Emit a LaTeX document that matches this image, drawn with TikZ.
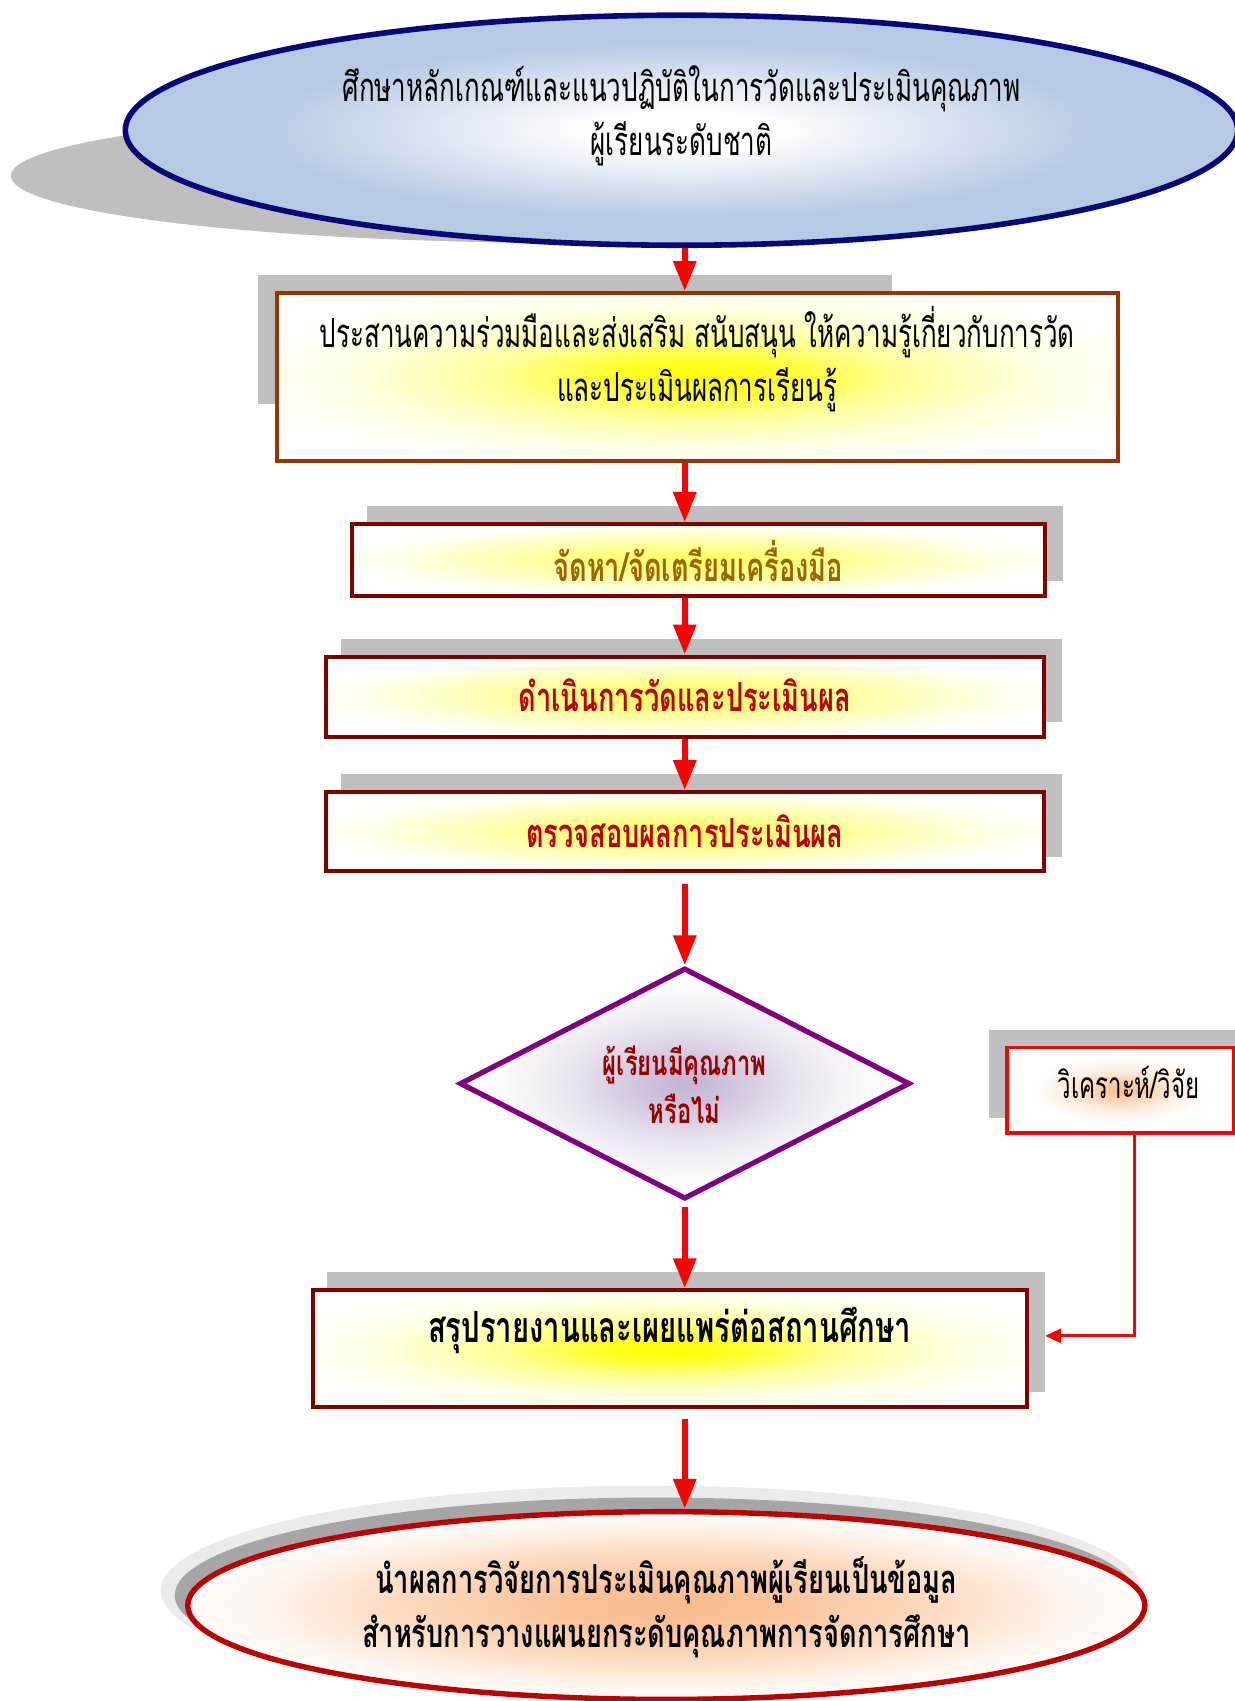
\documentclass[tikz,border=0pt]{standalone}
\usepackage{fontspec}
\newfontfamily\thai[Script=Thai,FakeStretch=0.65]{Loma}
\newfontfamily\thaib[Script=Thai,FakeStretch=0.68]{Loma}
\usetikzlibrary{shapes.geometric,arrows.meta,calc}
\newcommand\dpx{0.5426pt}
\definecolor{navy}{RGB}{8,8,120}
\definecolor{lblue}{RGB}{182,202,228}
\definecolor{sgray}{RGB}{191,191,191}
\definecolor{brownb}{RGB}{153,51,0}
\definecolor{maroonb}{RGB}{128,0,0}
\definecolor{olivet}{RGB}{156,101,0}
\definecolor{redt}{RGB}{192,0,0}
\definecolor{dredt}{RGB}{150,0,0}
\definecolor{purp}{RGB}{128,0,128}
\definecolor{pglowc}{RGB}{196,180,212}
\definecolor{oglowc}{RGB}{249,188,140}
\definecolor{ered}{RGB}{192,0,0}
\pgfdeclareradialshading{blueglow}{\pgfpoint{0bp}{0bp}}{color(0bp)=(white); color(4bp)=(white); color(19bp)=(lblue); color(50bp)=(lblue)}
\pgfdeclareradialshading{yglow}{\pgfpoint{0bp}{0bp}}{color(0bp)=(yellow); color(5bp)=(yellow!85!white); color(12bp)=(yellow!40!white); color(20bp)=(yellow!12!white); color(26bp)=(yellow!3!white); color(30bp)=(white); color(50bp)=(white)}
\pgfdeclareradialshading{ypale}{\pgfpoint{0bp}{0bp}}{color(0bp)=(yellow!65!white); color(9bp)=(yellow!45!white); color(17bp)=(yellow!22!white); color(23bp)=(yellow!6!white); color(27bp)=(white); color(50bp)=(white)}
\pgfdeclareradialshading{pglow}{\pgfpoint{0bp}{0bp}}{color(0bp)=(pglowc); color(5bp)=(pglowc!80!white); color(12bp)=(pglowc!40!white); color(20bp)=(white!92!pglowc); color(28bp)=(white!97!pglowc); color(50bp)=(white!97!pglowc)}
\pgfdeclareradialshading{oglow}{\pgfpoint{0bp}{0bp}}{color(0bp)=(oglowc); color(5bp)=(oglowc!92!white); color(14bp)=(oglowc!55!white); color(22bp)=(oglowc!12!white); color(28bp)=(white); color(50bp)=(white)}
\pgfdeclareradialshading{osmall}{\pgfpoint{0bp}{0bp}}{color(0bp)=(oglowc); color(5bp)=(oglowc!70!white); color(12bp)=(oglowc!25!white); color(18bp)=(oglowc!5!white); color(21bp)=(white); color(50bp)=(white)}
\tikzset{
  shadowfill/.style={fill=sgray},
  txtreg/.style={font=\thai\fontsize{20}{27}\selectfont, align=center, text=black},
  txtbold/.style={font=\thaib\bfseries\fontsize{20}{27}\selectfont, align=center},
  flowbox/.style={rectangle, draw=maroonb, line width=2pt, shading=ypale, inner sep=0pt},
  arr/.style={draw=red, line width=3pt, -{Triangle[length=15pt,width=11pt]}},
  thinarr/.style={draw=red, line width=1.5pt, -{Triangle[length=8pt,width=7pt]}},
}
\begin{document}
\begin{tikzpicture}[x=0.5426pt,y=-0.5426pt]
\useasboundingbox (0,0) rectangle (1138,1567.5);
% ---- top ellipse
\fill[shadowfill] (535,162) ellipse [x radius=525*\dpx, y radius=62*\dpx];
\node[ellipse, draw=navy, line width=2.8pt, shading=blueglow, inner sep=0pt,
      minimum width=1025*\dpx, minimum height=212*\dpx] (T) at (628,120) {};
\node[txtreg] (Tt) at (628,107) {ศึกษาหลักเกณฑ์และแนวปฏิบัติในการวัดและประเมินคุณภาพ\\ผู้เรียนระดับชาติ};
% ---- box 2
\fill[shadowfill] (238,253) rectangle (822,372);
\node[flowbox, draw=brownb, line width=1.9pt, shading=yglow, minimum width=775*\dpx, minimum height=155*\dpx] (B2) at (642.5,347.5) {};
\node[txtreg] (B2t) at (642.5,331) {ประสานความร่วมมือและส่งเสริม สนับสนุน ให้ความรู้เกี่ยวกับการวัด\\และประเมินผลการเรียนรู้};
% ---- box 3
\fill[shadowfill] (338,466) rectangle (980,535);
\node[flowbox, minimum width=639*\dpx, minimum height=66*\dpx] (B3) at (643.5,516) {};
\node[txtbold, text=olivet] (B3t) at (643.5,517) {จัดหา/จัดเตรียมเครื่องมือ};
% ---- box 4
\fill[shadowfill] (314,589) rectangle (979,665);
\node[flowbox, minimum width=662*\dpx, minimum height=74*\dpx] (B4) at (631,642) {};
\node[txtbold, text=redt] (B4t) at (631,641) {ดำเนินการวัดและประเมินผล};
% ---- box 5
\fill[shadowfill] (314,713) rectangle (979,790);
\node[flowbox, minimum width=662*\dpx, minimum height=73*\dpx] (B5) at (631,766.5) {};
\node[txtbold, text=redt] (B5t) at (631,766) {ตรวจสอบผลการประเมินผล};
% ---- diamond
\node[diamond, draw=purp, line width=2.6pt, shading=pglow, inner sep=0pt,
      minimum width=415*\dpx, minimum height=213*\dpx] (D) at (631,998.5) {};
\node[txtbold, text=dredt, font=\thaib\bfseries\fontsize{17.5}{24}\selectfont] (Dt) at (631,1000) {ผู้เรียนมีคุณภาพ\\หรือไม่};
% ---- analyse box
\fill[shadowfill] (911,949) rectangle (1140,1030);
\node[rectangle, draw=red, line width=1.6pt, shading=osmall, inner sep=0pt,
      minimum width=209*\dpx, minimum height=79*\dpx] (V) at (1032.5,1004.5) {};
\node[txtreg, font=\thai\fontsize{18.5}{24}\selectfont] (Vt) at (1040,997) {วิเคราะห์/วิจัย};
% ---- box 6
\fill[shadowfill] (301,1172) rectangle (963,1283);
\node[flowbox, shading=yglow, minimum width=658*\dpx, minimum height=108*\dpx] (B6) at (617,1243) {};
\node[txtbold, text=black, font=\thaib\bfseries\fontsize{21.5}{27}\selectfont] (B6t) at (617,1226) {สรุปรายงานและเผยแพร่ต่อสถานศึกษา};
% ---- bottom ellipse
\fill[black!8] (600,1466) ellipse [x radius=452*\dpx, y radius=97*\dpx];
\fill[black!35] (604,1470) ellipse [x radius=443*\dpx, y radius=90*\dpx];
\node[ellipse, draw=ered, line width=2.7pt, shading=oglow, inner sep=0pt,
      minimum width=882*\dpx, minimum height=173*\dpx] (E) at (614,1479.5) {};
\node[txtbold, text=black] (Et) at (614,1481) {นำผลการวิจัยการประเมินคุณภาพผู้เรียนเป็นข้อมูล\\สำหรับการวางแผนยกระดับคุณภาพการจัดการศึกษา};
% ---- connectors
\draw[arr] (T.south -| D.north) -- (B2.north -| D.north);
\draw[arr] (B2.south -| D.north) -- (B3.north -| D.north);
\draw[arr] (B3.south -| D.north) -- (B4.north -| D.north);
\draw[arr] (B4.south -| D.north) -- (B5.north -| D.north);
\draw[arr] ($(B5.south -| D.north)+(0,10)$) -- (D.north);
\draw[arr] ($(D.south)+(0,5)$) -- (B6.north -| D.south);
\draw[arr] ($(B6.south -| D.south)+(0,9)$) -- (E.north -| D.south);
\coordinate (vin) at (963,1231);
\draw[thinarr] ($(V.south)+(12.5,0)$) |- (vin);
\end{tikzpicture}
\end{document}
